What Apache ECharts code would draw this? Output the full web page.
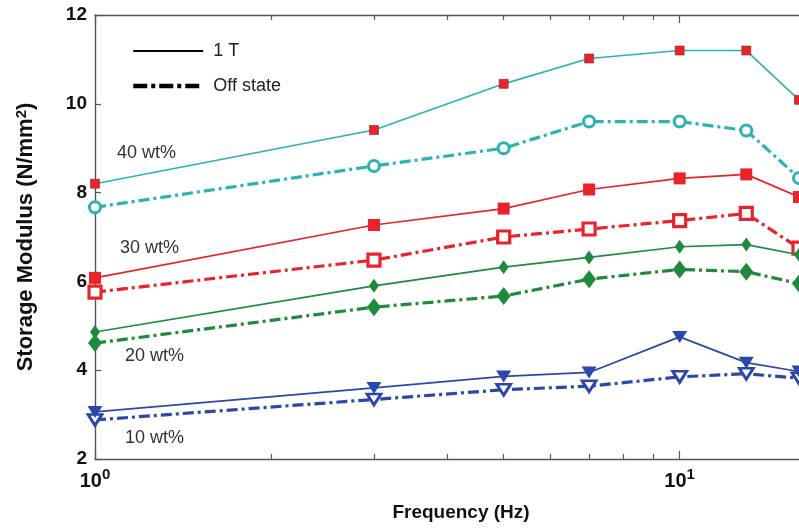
<!DOCTYPE html>
<html>
<head>
<meta charset="utf-8">
<script src="https://cdn.jsdelivr.net/npm/echarts@6/dist/echarts.min.js"></script>
<style>
html,body{margin:0;padding:0;background:#fff;}
#c{width:799px;height:529px;}
</style>
</head>
<body>
<div id="c"></div>
<script>
// ---- data ----
const freq = [1, 3, 5, 7, 10, 13, 16];
const s40on  = [8.2, 9.41, 10.45, 11.02, 11.2, 11.2, 10.09];
const s40off = [7.67, 8.6, 9.0, 9.6, 9.6, 9.4, 8.33];
const s30on  = [6.08, 7.27, 7.64, 8.07, 8.32, 8.41, 7.9];
const s30off = [5.76, 6.48, 7.0, 7.18, 7.37, 7.53, 6.75];
const s20on  = [4.86, 5.9, 6.32, 6.54, 6.78, 6.83, 6.6];
const s20off = [4.61, 5.42, 5.67, 6.05, 6.27, 6.22, 5.95];
const s10on  = [3.06, 3.6, 3.86, 3.95, 4.75, 4.17, 3.97];
const s10off = [2.88, 3.34, 3.56, 3.64, 3.85, 3.92, 3.82];
const yTicks = [2, 4, 6, 8, 10, 12];
const xMajor = [1, 10];
const xMinor = [2, 3, 4, 5, 6, 7, 8, 9];
const groupLabels = ['40 wt%', '30 wt%', '20 wt%', '10 wt%'];
const legendNames = ['1 T', 'Off state'];

const C_CYAN = '#2bb3b3', C_RED = '#e8232b', C_GREEN = '#1f8a3e', C_BLUE = '#2b47a9';
const DASHDOT = [11, 4, 3, 4];
const FONT = 'Liberation Sans, Arial, sans-serif';

function pts(ys){ return freq.map((f,i)=>[f, ys[i]]); }

function mk(name, ys, color, dashed, symbol, size, fill, border, rotate){
  return {
    type:'line', name:name, data:pts(ys), clip:false,
    symbol:symbol, symbolSize:size, symbolRotate:rotate||0,
    lineStyle:{color:color, width: dashed?3.2:1.7, type: dashed?DASHDOT:'solid', cap:'butt'},
    itemStyle:{color:fill, borderColor:border.color, borderWidth:border.width},
    emphasis:{disabled:true}, z: dashed?3:4
  };
}

const series = [
  mk('40on', s40on, C_CYAN, false, 'rect', 9, C_RED, {color:'#8a2020', width:0.6}),
  mk('40off', s40off, C_CYAN, true, 'circle', 11, '#ffffff', {color:C_CYAN, width:3}),
  mk('30on', s30on, C_RED, false, 'rect', 12, C_RED, {color:C_RED, width:0}),
  mk('30off', s30off, C_RED, true, 'rect', 12, '#ffffff', {color:C_RED, width:3.2}),
  mk('20on', s20on, C_GREEN, false, 'diamond', [10,14], C_GREEN, {color:C_GREEN, width:0}),
  mk('20off', s20off, C_GREEN, true, 'diamond', [14,18], C_GREEN, {color:C_GREEN, width:0}),
  mk('10on', s10on, C_BLUE, false, 'triangle', [15,12], C_BLUE, {color:C_BLUE, width:0}, 180),
  mk('10off', s10off, C_BLUE, true, 'triangle', [14,11], '#ffffff', {color:C_BLUE, width:2.8}, 180),
  {type:'line', name:legendNames[0], data:[], symbol:'none', lineStyle:{color:'#000', width:1.6, type:'solid'}, itemStyle:{color:'#000'}},
  {type:'line', name:legendNames[1], data:[], symbol:'none', lineStyle:{color:'#000', width:4, type:[14,4,4,4], cap:'butt'}, itemStyle:{color:'#000'}}
];

const AX = '#555';
function xAx(pos, showLine, ticks, len, labels){
  return {
    type:'log', logBase:10, min:1, max:16, position:pos, gridIndex:0,
    axisLine:{show:showLine, lineStyle:{color:AX, width:1.4}},
    axisTick:{show:true, inside:true, length:len, customValues:ticks, lineStyle:{color:AX, width:1.2}},
    axisLabel:labels ? {
      show:true, customValues:xMajor, margin:8,
      formatter:function(v){ return '{b|10}{s|' + Math.round(Math.log10(v)) + '}'; },
      rich:{
        b:{fontFamily:FONT, fontWeight:'bold', fontSize:20, color:'#111', lineHeight:24, padding:[8,0,0,0], verticalAlign:'bottom'},
        s:{fontFamily:FONT, fontWeight:'bold', fontSize:15, color:'#111', verticalAlign:'top', lineHeight:14}
      }
    } : {show:false},
    splitLine:{show:false}, minorTick:{show:false}
  };
}

const xAxes = [
  Object.assign(xAx('bottom', true, xMajor, 8, true), {
    name:'Frequency (Hz)', nameLocation:'middle', nameGap:44,
    nameTextStyle:{fontFamily:FONT, fontWeight:'bold', fontSize:19, color:'#111', padding:[0,0,0,28]}
  }),
  xAx('bottom', false, xMinor, 5, false),
  xAx('top', true, xMajor, 8, false),
  xAx('top', false, xMinor, 5, false)
];
series.forEach(s=>{ s.xAxisIndex = 0; });

const chart = echarts.init(document.getElementById('c'), null, {renderer:'canvas'});
chart.setOption({
  backgroundColor:'#ffffff',
  animation:false,
  grid:{left:95, top:15, right:0, bottom:70, containLabel:false},
  xAxis:xAxes,
  yAxis:{
    type:'value', min:yTicks[0], max:yTicks[yTicks.length-1], interval:2,
    axisLine:{show:true, lineStyle:{color:AX, width:1.4}},
    axisTick:{show:true, inside:true, length:6, lineStyle:{color:AX, width:1.2}},
    axisLabel:{fontFamily:FONT, fontWeight:'bold', fontSize:19, color:'#111', margin:8},
    splitLine:{show:false},
    name:'{a|Storage Modulus (N/mm}{s|2}{a|)}', nameLocation:'middle', nameGap:57,
    nameTextStyle:{
      rich:{
        a:{fontFamily:FONT, fontWeight:'bold', fontSize:22, color:'#111', lineHeight:24},
        s:{fontFamily:FONT, fontWeight:'bold', fontSize:15, color:'#111', verticalAlign:'top', lineHeight:12}
      }
    }
  },
  legend:{
    orient:'vertical', left:126, top:37, itemWidth:70, itemHeight:20, itemGap:17,
    selectedMode:false,
    itemStyle:{opacity:0},
    data:[
      {name:legendNames[0], itemStyle:{opacity:0}, lineStyle:{color:'#000', width:1.8, type:'solid'}},
      {name:legendNames[1], itemStyle:{opacity:0}, lineStyle:{color:'#000', width:4.5, type:[14,4,4,4], cap:'butt'}}
    ],
    textStyle:{fontFamily:FONT, fontSize:18, color:'#222', padding:[0,0,0,5]}
  },
  graphic:[
    {type:'text', left:117, top:144, style:{text:groupLabels[0], font:'18px '+FONT, fill:'#333'}},
    {type:'text', left:120, top:239, style:{text:groupLabels[1], font:'18px '+FONT, fill:'#333'}},
    {type:'text', left:125, top:347, style:{text:groupLabels[2], font:'18px '+FONT, fill:'#333'}},
    {type:'text', left:125, top:429, style:{text:groupLabels[3], font:'18px '+FONT, fill:'#333'}}
  ],
  series:series
});
</script>
</body>
</html>
